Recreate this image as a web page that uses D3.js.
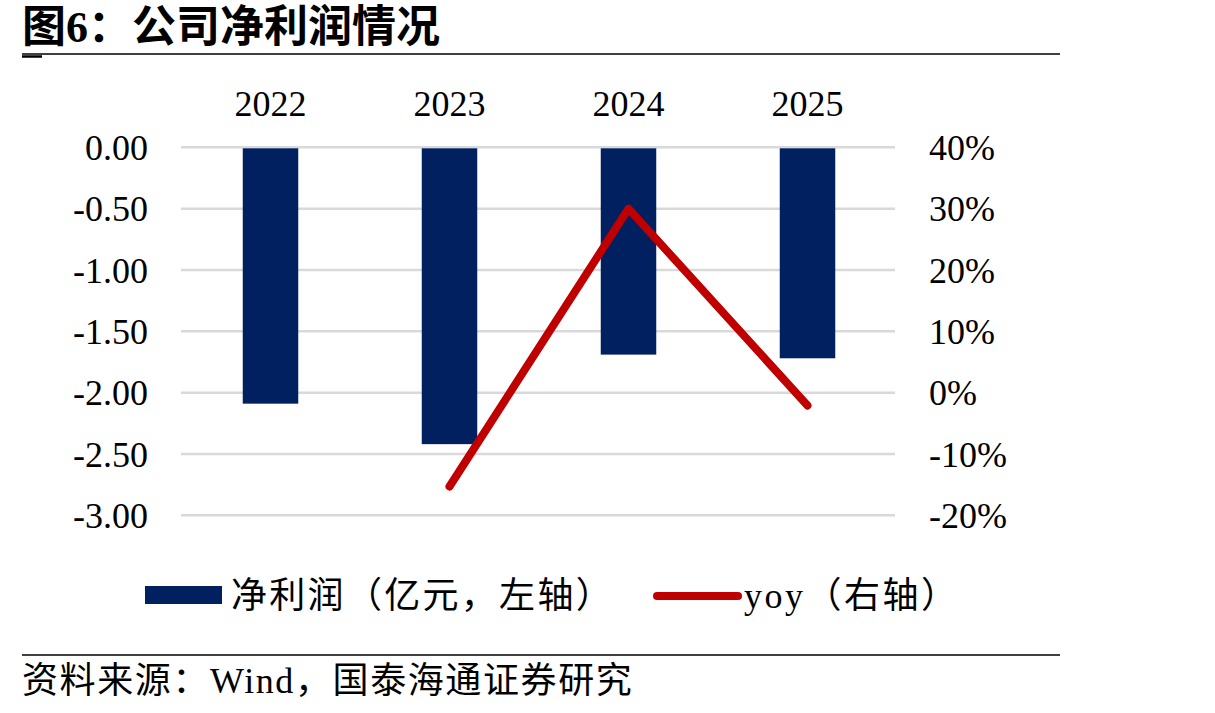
<!DOCTYPE html>
<html>
<head>
  <meta charset="utf-8">
  <title>公司净利润情况</title>
  <script src="https://cdn.jsdelivr.net/npm/d3@7"></script>
  <style>
    body { margin: 0; background: #fff; }
    text { font-family: "Liberation Serif", "Noto Sans CJK SC", serif; fill: #000; }
  </style>
</head>
<body>
  <div id="chart"></div>
  <script>
    // data
    var years = ["2022", "2023", "2024", "2025"];
    var profit = [-2.09, -2.42, -1.69, -1.72];      // 亿元, left axis
    var yoy = [null, -15.3, 30.0, -2.1];            // %, right axis
    var leftTicks = [0, -0.5, -1, -1.5, -2, -2.5, -3];
    var rightTicks = [40, 30, 20, 10, 0, -10, -20];

    var W = 1215, H = 713;
    var svg = d3.select("#chart").append("svg")
        .attr("width", W)
        .attr("height", H);

    var x = d3.scaleBand()
        .domain(years)
        .range([181, 897])
        .paddingInner(0.69)
        .paddingOuter(0.345);

    var yL = d3.scaleLinear().domain([-3, 0]).range([515.3, 147.3]);
    var yR = d3.scaleLinear().domain([-20, 40]).range([515.3, 147.3]);

    // title
    svg.append("text")
        .attr("x", 22).attr("y", 42)
        .style("font-size", "44px")
        .style("font-weight", "bold")
        .text("图6：公司净利润情况");

    svg.append("line")
        .attr("x1", 22).attr("x2", 1060)
        .attr("y1", 54).attr("y2", 54)
        .attr("stroke", "#000").attr("stroke-width", 1.5);
    svg.append("line")
        .attr("x1", 22).attr("x2", 42)
        .attr("y1", 56.5).attr("y2", 56.5)
        .attr("stroke", "#000").attr("stroke-width", 2.5);

    // gridlines
    svg.append("g").selectAll("line")
      .data(leftTicks)
      .enter().append("line")
        .attr("x1", 181).attr("x2", 895)
        .attr("y1", d => yL(d)).attr("y2", d => yL(d))
        .attr("stroke", "#d9d9d9").attr("stroke-width", 2.5);

    // left axis labels
    svg.append("g").selectAll("text")
      .data(leftTicks)
      .enter().append("text")
        .attr("x", 148)
        .attr("y", d => yL(d))
        .attr("dy", "0.35em")
        .attr("text-anchor", "end")
        .style("font-size", "36px")
        .text(d => d3.format(".2f")(d).replace("−", "-"));

    // right axis labels
    svg.append("g").selectAll("text")
      .data(rightTicks)
      .enter().append("text")
        .attr("x", 929)
        .attr("y", d => yR(d))
        .attr("dy", "0.35em")
        .style("font-size", "36px")
        .text(d => d + "%");

    // year labels on top
    svg.append("g").selectAll("text")
      .data(years)
      .enter().append("text")
        .attr("x", d => x(d) + x.bandwidth() / 2)
        .attr("y", 116)
        .attr("text-anchor", "middle")
        .style("font-size", "36px")
        .text(d => d);

    // bars
    svg.append("g").selectAll("rect")
      .data(profit)
      .enter().append("rect")
        .attr("x", (d, i) => x(years[i]))
        .attr("width", x.bandwidth())
        .attr("y", yL(0) + 1)
        .attr("height", d => yL(d) - yL(0) - 1)
        .attr("fill", "#002060");

    // yoy line
    var line = d3.line()
        .defined(d => d[1] != null)
        .x(d => x(d[0]) + x.bandwidth() / 2)
        .y(d => yR(d[1]));

    svg.append("path")
        .datum(years.map((y, i) => [y, yoy[i]]))
        .attr("d", line)
        .attr("fill", "none")
        .attr("stroke", "#c00000")
        .attr("stroke-width", 8)
        .attr("stroke-linecap", "round")
        .attr("stroke-linejoin", "round");

    // legend
    var lg = svg.append("g");
    lg.append("rect")
        .attr("x", 145).attr("y", 586)
        .attr("width", 77).attr("height", 18)
        .attr("fill", "#002060");
    lg.append("text")
        .attr("x", 231).attr("y", 608)
        .style("font-size", "36px")
        .style("letter-spacing", "2.3px")
        .text("净利润（亿元，左轴）");
    lg.append("line")
        .attr("x1", 657).attr("x2", 738)
        .attr("y1", 596).attr("y2", 596)
        .attr("stroke", "#c00000")
        .attr("stroke-width", 8)
        .attr("stroke-linecap", "round");
    lg.append("text")
        .attr("x", 744).attr("y", 608)
        .style("font-size", "36px")
        .style("letter-spacing", "2.5px")
        .text("yoy（右轴）");

    // source
    svg.append("line")
        .attr("x1", 22).attr("x2", 1060)
        .attr("y1", 655).attr("y2", 655)
        .attr("stroke", "#000").attr("stroke-width", 1.5);
    svg.append("text")
        .attr("x", 22).attr("y", 693)
        .style("font-size", "36px")
        .style("letter-spacing", "1.6px")
        .text("资料来源：Wind，国泰海通证券研究");
  </script>
</body>
</html>
